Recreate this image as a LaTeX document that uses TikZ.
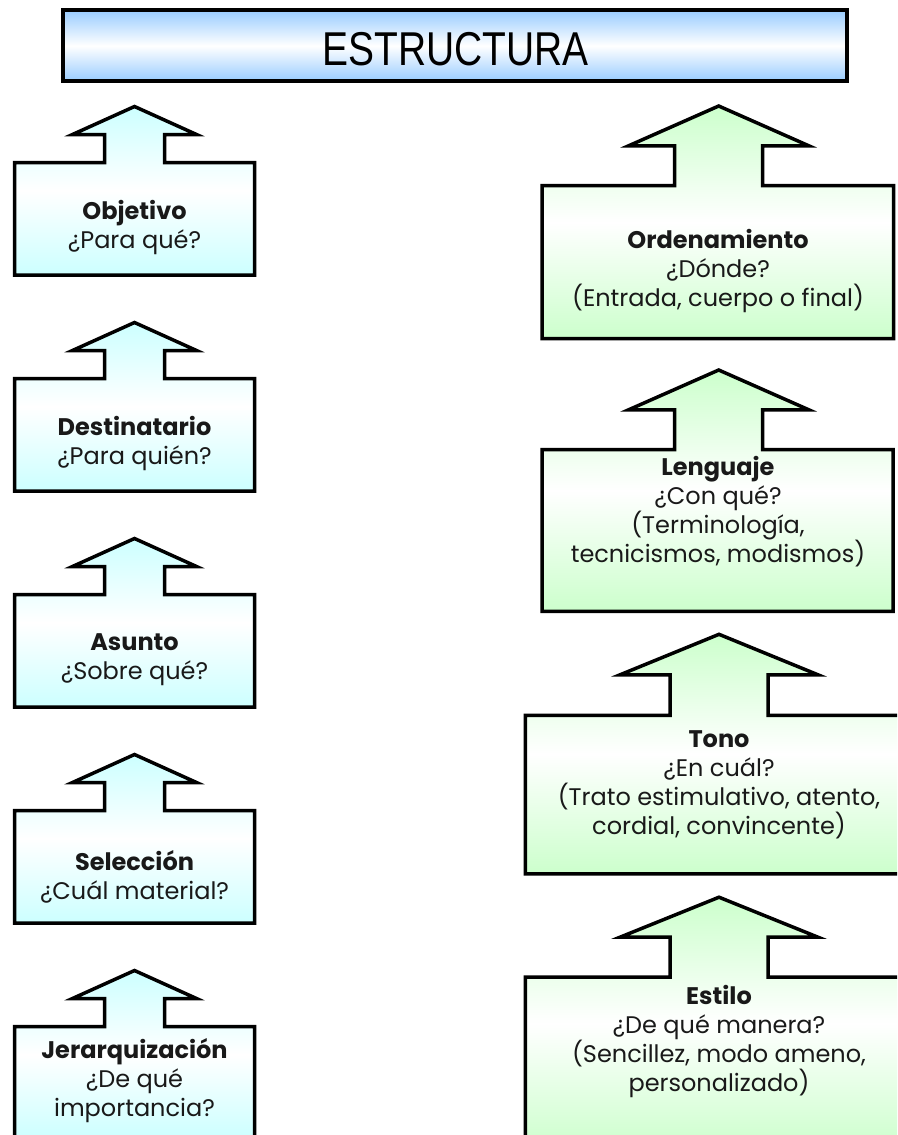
\documentclass[tikz,border=0pt]{standalone}
\usepackage{fontspec}
\setmainfont{Poppins}
\newfontfamily\headfont{Liberation Sans}

\definecolor{skyfill}{RGB}{153,204,255}
\definecolor{cyanfill}{RGB}{204,255,255}
\definecolor{mintfill}{RGB}{204,255,204}

\tikzset{
  outline/.style={draw=black, line width=3.5pt, line join=miter},
  bluearrow/.style={outline, top color=cyanfill, bottom color=cyanfill, middle color=white},
  greenarrow/.style={outline, top color=mintfill, bottom color=mintfill, middle color=white},
  titlebox/.style={draw=black, line width=4pt, top color=skyfill, bottom color=skyfill, middle color=white},
  boxtext/.style={align=center, inner sep=0pt, text=black!90, font=\fontsize{24}{29}\selectfont},
  titletext/.style={inner sep=0pt, anchor=base, font=\headfont\fontsize{47.5}{50}\selectfont},
}

% Up-arrow callout: a box with an arrow rising from its top edge.
% #1 style, #2 left, #3 right, #4 box top, #5 box bottom,
% #6 centre x, #7 shaft half width, #8 wing half width, #9 head length
\newcommand\arrowcallout[9]{%
  \path[#1] (#2,#4) -- ({#6-#7},#4) -- ({#6-#7},{#4-0.5*#9})
    -- ({#6-#8},{#4-0.5*#9}) -- (#6,{#4-#9}) -- ({#6+#8},{#4-0.5*#9})
    -- ({#6+#7},{#4-0.5*#9}) -- ({#6+#7},#4) -- (#3,#4) -- (#3,#5)
    -- (#2,#5) -- cycle;}

\begin{document}
\begin{tikzpicture}[x=1pt, y=-1pt]
\useasboundingbox (0,0) rectangle (897,1135);
\clip (0,0) rectangle (897,1135);
\fill[white] (0,0) rectangle (897,1135);

% heading
\fill[black!45] (64.3,11.8) rectangle (848,82.8);
\path[titlebox] (62.8,10.3) rectangle (846.5,81.3);
\node[titletext] (title) at (455.5,65) {\scalebox{0.82}[1]{ESTRUCTURA}};

% left column
\arrowcallout{bluearrow}{14.5}{254.5}{162.5}{275}{134.5}{30}{62}{56}
\arrowcallout{bluearrow}{14.5}{254.5}{378.5}{491}{134.5}{30}{62}{56}
\arrowcallout{bluearrow}{14.5}{254.5}{594.5}{707}{134.5}{30}{62}{56}
\arrowcallout{bluearrow}{14.5}{254.5}{810.5}{923}{134.5}{30}{62}{56}
\arrowcallout{bluearrow}{14.5}{254.5}{1026.5}{1139}{134.5}{30}{62}{56}

\node[boxtext] (obj) at (134.5,228) {\textbf{Objetivo}\\¿Para qué?};
\node[boxtext] (dest) at (134.5,444) {\textbf{Destinatario}\\¿Para quién?};
\node[boxtext] (asu) at (134.5,660) {\textbf{Asunto}\\¿Sobre qué?};
\node[boxtext] (sel) at (134.5,877) {\textbf{Selección}\\¿Cuál material?};
\node[boxtext] (jer) at (134.5,1081) {\textbf{Jerarquización}\\¿De qué\\importancia?};

% right column
\arrowcallout{greenarrow}{542}{893.7}{185.5}{338.7}{718.7}{44}{90}{79.5}
\arrowcallout{greenarrow}{542}{893}{449.5}{611.3}{718.7}{44}{90}{79.5}
\arrowcallout{greenarrow}{525.3}{940}{715.3}{873.8}{719}{49}{99}{81}
\arrowcallout{greenarrow}{525.3}{940}{977.2}{1150}{719}{49}{99}{80}

\node[boxtext] (ord) at (718,271) {\textbf{Ordenamiento}\\¿Dónde?\\(Entrada, cuerpo o final)};
\node[boxtext] (len) at (718,512) {\textbf{Lenguaje}\\¿Con qué?\\(Terminología,\\tecnicismos, modismos)};
\node[boxtext] (ton) at (719,785) {\textbf{Tono}\\¿En cuál?\\(Trato estimulativo, atento,\\cordial, convincente)};
\node[boxtext] (est) at (719,1041) {\textbf{Estilo}\\¿De qué manera?\\(Sencillez, modo ameno,\\personalizado)};
\end{tikzpicture}
\end{document}
